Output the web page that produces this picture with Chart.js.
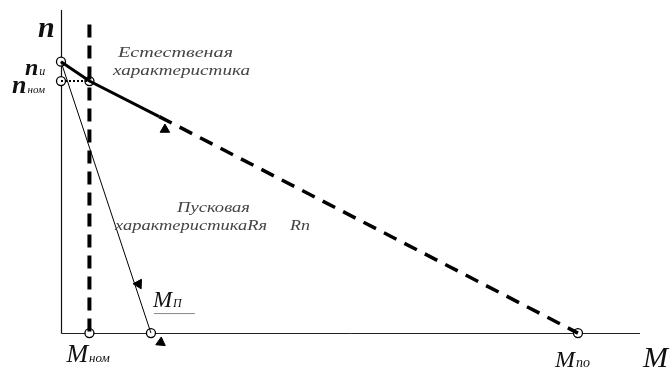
<!DOCTYPE html>
<html>
<head>
<meta charset="utf-8">
<script src="https://cdn.jsdelivr.net/npm/chart.js@4/dist/chart.umd.min.js"></script>
<style>
  html, body { margin: 0; padding: 0; background: #fff; }
  #wrap { width: 671px; height: 370px; }
</style>
</head>
<body>
<div id="wrap"><canvas id="chart" width="671" height="370"></canvas></div>
<script>
// механические характеристики n(M), условные единицы
const naturalSolid = [[0, 84], [5.5, 78], [19, 67]];
const naturalDashed = [[19, 67], [100, 0]];
const startLine = [[0, 84], [17.4, 0]];
const nomLine = [[5.5, 95.5], [5.5, 0]];
const nomSpeed = [[0, 78], [5.5, 78]];
const markers = [[0, 84], [0, 78], [5.5, 78], [5.5, 0], [17.4, 0], [100, 0]];
const arrows = [[20.1, 63], [15.0, 15.2], [19.3, -2.9]];
const arrowTurn = [0, -88, 5];

const pts = a => a.map(([x, y]) => ({ x, y }));
const serif = '"Liberation Serif", "DejaVu Serif", serif';
const ink = '#000';

function sym(ctx, main, sub, left, base, size, subSize, bold) {
  ctx.fillStyle = '#111';
  ctx.font = `italic ${bold ? 'bold ' : ''}${size}px ${serif}`;
  ctx.fillText(main, left, base);
  const w = ctx.measureText(main).width;
  if (sub) {
    ctx.font = `italic ${subSize}px ${serif}`;
    ctx.fillText(sub, left + w + 1, base);
  }
}

function stretched(ctx, text, left, base, width, size) {
  ctx.font = `italic ${size}px ${serif}`;
  ctx.fillStyle = '#444';
  const w = ctx.measureText(text).width;
  ctx.save();
  ctx.translate(left, base);
  ctx.scale(width / w, 1);
  ctx.fillText(text, 0, 0);
  ctx.restore();
}

// оси n и M проходят через ноль шкал
const axes = {
  id: 'axes',
  beforeDatasetsDraw(chart) {
    const { ctx, scales: { x, y } } = chart;
    const x0 = Math.round(x.getPixelForValue(0)) + 0.5;
    const y0 = Math.round(y.getPixelForValue(0)) + 0.5;
    ctx.save();
    ctx.lineWidth = 1.2;
    ctx.strokeStyle = '#111';
    ctx.beginPath();
    ctx.moveTo(x0, y.top);
    ctx.lineTo(x0, y0);
    ctx.stroke();
    ctx.lineWidth = 1;
    ctx.strokeStyle = '#222';
    ctx.beginPath();
    ctx.moveTo(x0, y0);
    ctx.lineTo(x.right, y0);
    ctx.stroke();
    ctx.restore();
  }
};

const labels = {
  id: 'labels',
  afterDatasetsDraw(chart) {
    const { ctx, scales: { x, y } } = chart;
    const x0 = x.getPixelForValue(0);
    const yb = y.getPixelForValue(0);
    ctx.save();
    ctx.textBaseline = 'alphabetic';
    sym(ctx, 'n', '', x0 - 23, y.top + 27, 30, 0, true);
    sym(ctx, 'n', 'и', x0 - 36, y.getPixelForValue(84) + 13, 24, 12, true);
    sym(ctx, 'n', 'ном', x0 - 49, y.getPixelForValue(78) + 12, 26, 11, true);
    sym(ctx, 'M', 'ном', x.getPixelForValue(5.5) - 23, yb + 29, 26, 13, false);
    sym(ctx, 'M', 'П', x.getPixelForValue(17.4) + 2, yb - 26, 23, 12, false);
    sym(ctx, 'M', 'по', x.getPixelForValue(100) - 23, yb + 34, 24, 14, false);
    sym(ctx, 'M', '', x.right + 3, yb + 34, 30, 0, false);

    // черта под M_П
    ctx.strokeStyle = '#888';
    ctx.lineWidth = 1;
    ctx.beginPath();
    ctx.moveTo(x.getPixelForValue(17.4) + 3, yb - 19.5);
    ctx.lineTo(x.getPixelForValue(17.4) + 44, yb - 19.5);
    ctx.stroke();

    stretched(ctx, 'Естественая', 118, 57, 115, 15);
    stretched(ctx, 'характеристика', 113, 75, 137, 15);
    stretched(ctx, 'Пусковая', 177, 212, 73, 15);
    stretched(ctx, 'характеристикаRя', 115, 230, 152, 15);
    stretched(ctx, 'Rп', 290, 230, 20, 15);
    ctx.restore();
  }
};

new Chart(document.getElementById('chart'), {
  type: 'scatter',
  data: {
    datasets: [
      { data: pts(naturalSolid), showLine: true, borderColor: ink, borderWidth: 3, pointRadius: 0, clip: false },
      { data: pts(naturalDashed), showLine: true, borderColor: ink, borderWidth: 3.5, borderDash: [14, 9], pointRadius: 0, clip: false },
      { data: pts(startLine), showLine: true, borderColor: ink, borderWidth: 1, pointRadius: 0, clip: false },
      { data: pts(nomLine), showLine: true, borderColor: ink, borderWidth: 4, borderDash: [13, 8], pointRadius: 0, clip: false },
      { data: pts(nomSpeed), showLine: true, borderColor: ink, borderWidth: 2, borderDash: [2, 2], pointRadius: 0, clip: false },
      { data: pts(markers), showLine: false, pointStyle: 'circle', pointRadius: 4.5, pointBackgroundColor: '#fff', pointBorderColor: ink, pointBorderWidth: 1.3, clip: false },
      { data: pts(arrows), showLine: false, pointStyle: 'triangle', pointRadius: 5.5, pointRotation: arrowTurn, pointBackgroundColor: ink, pointBorderColor: ink, pointBorderWidth: 1, clip: false }
    ]
  },
  options: {
    responsive: false,
    animation: false,
    events: [],
    layout: { padding: { left: 61, top: 10, right: 31, bottom: 24 } },
    plugins: { legend: { display: false }, tooltip: { enabled: false } },
    scales: {
      x: {
        type: 'linear', min: 0, max: 112,
        grid: { display: false, drawTicks: false },
        ticks: { display: false },
        border: { display: false }
      },
      y: {
        type: 'linear', min: -4, max: 100,
        grid: { display: false, drawTicks: false },
        ticks: { display: false },
        border: { display: false }
      }
    }
  },
  plugins: [axes, labels]
});
</script>
</body>
</html>
